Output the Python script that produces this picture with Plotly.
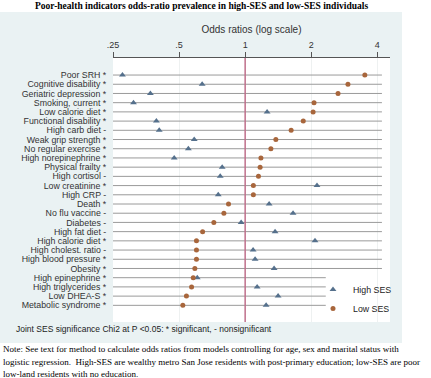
import plotly.graph_objects as go

# ---------------- data ----------------
indicators = [
    "Poor SRH *", "Cognitive disability *", "Geriatric depression *", "Smoking, current *",
    "Low calorie diet *", "Functional disability *", "High carb diet -", "Weak grip strength *",
    "No regular exercise *", "High norepinephrine *", "Physical frailty *", "High cortisol -",
    "Low creatinine *", "High CRP -", "Death *", "No flu vaccine -", "Diabetes -",
    "High fat diet -", "High calorie diet *", "High cholest. ratio -", "High blood pressure *",
    "Obesity *", "High epinephrine *", "High triglycerides *", "Low DHEA-S *", "Metabolic syndrome *",
]
high_ses = [0.276, 0.637, 0.370, 0.310, 1.259, 0.394, 0.406, 0.586, 0.551, 0.475, 0.786, 0.770,
            2.125, 0.754, 1.286, 1.653, 0.959, 1.369, 2.081, 1.087, 1.110, 1.355, 0.605, 1.134,
            1.413, 1.246]
low_ses = [3.51, 2.94, 2.65, 2.06, 2.04, 1.84, 1.62, 1.38, 1.31, 1.18, 1.17, 1.15,
           1.09, 1.09, 0.84, 0.80, 0.72, 0.64, 0.60, 0.60, 0.60, 0.59, 0.58, 0.57,
           0.54, 0.52]
tick_vals = [0.25, 0.5, 1, 2, 4]
tick_text = [".25", ".5", "1", "2", "4"]

# ---------------- layout geometry (pixels) ----------------
W, H = 431, 378
L, R, T, B = 113, 390, 58, 322
PW, PH = R - L, B - T


def px(xp):
    return (xp - L) / PW


def py(yp):
    return (B - yp) / PH


n = len(indicators)
rows = list(range(n))

# row guide lines (shorter where the legend sits)
line_x, line_y = [], []
for i in rows:
    end = 4.2 if i < n - 4 else 2.33
    line_x += [0.25, end, None]
    line_y += [i, i, None]

fig = go.Figure()
fig.add_trace(go.Scatter(x=line_x, y=line_y, mode="lines",
                         line=dict(color="#9a9a9a", width=1),
                         hoverinfo="skip", showlegend=False))
fig.add_trace(go.Scatter(x=high_ses, y=rows, mode="markers", name="High SES",
                         marker=dict(symbol="triangle-up", size=6, color="#55708c")))
fig.add_trace(go.Scatter(x=low_ses, y=rows, mode="markers", name="Low SES",
                         marker=dict(symbol="circle", size=5, color="#a8663c")))

shapes = [
    # outer light bluish-grey graph region
    dict(type="rect", xref="paper", yref="paper", x0=px(0), x1=px(402), y0=py(343), y1=py(12),
         fillcolor="#eaf2f3", line=dict(width=0), layer="below"),
    # white plot region
    dict(type="rect", xref="paper", yref="paper", x0=0, x1=1, y0=0, y1=1,
         fillcolor="white", line=dict(width=0), layer="below"),
    # reference line at OR = 1
    dict(type="line", xref="x", yref="paper", x0=1, x1=1, y0=0, y1=1,
         line=dict(color="#c0708c", width=1.5), layer="above"),
]

serif = "Liberation Serif, Times New Roman, serif"
sans = "Liberation Sans, Arial, sans-serif"

annotations = [
    dict(text="<b>Poor-health indicators odds-ratio prevalence in high-SES and low-SES individuals</b>",
         xref="paper", yref="paper", x=px(201), y=py(6), xanchor="center", yanchor="middle",
         showarrow=False, font=dict(family=serif, size=9.5, color="black")),
    dict(text="Joint SES significance Chi2 at P <0.05: * significant, - nonsignificant",
         xref="paper", yref="paper", x=px(14), y=py(329), xanchor="left", yanchor="middle",
         showarrow=False, font=dict(family=sans, size=8.5, color="#222")),
]
notes = [
    "Note: See text for method to calculate odds ratios from models controlling for age, sex and marital status with",
    "logistic regression.  High-SES are wealthy metro San Jose residents with post-primary education; low-SES are poor",
    "low-land residents with no education.",
]
for k, t in enumerate(notes):
    annotations.append(dict(text=t, xref="paper", yref="paper", x=px(1), y=py(349 + 12.5 * k),
                            xanchor="left", yanchor="middle", showarrow=False,
                            font=dict(family=serif, size=9, color="black")))

fig.update_layout(
    width=W, height=H,
    margin=dict(l=L, r=W - R, t=T, b=H - B, pad=0),
    paper_bgcolor="white", plot_bgcolor="white",
    shapes=shapes, annotations=annotations,
    showlegend=True,
    legend=dict(x=px(313), y=py(275), xanchor="left", yanchor="top",
                bgcolor="rgba(0,0,0,0)", borderwidth=0,
                font=dict(family=sans, size=8.8, color="#222"),
                tracegroupgap=0, itemsizing="trace"),
    xaxis=dict(type="log", side="top", range=[-0.6021, 0.66],
               tickvals=tick_vals, ticktext=tick_text,
               showline=True, linecolor="#555", linewidth=1, mirror=False,
               ticks="outside", ticklen=5, tickcolor="#555", tickwidth=1,
               tickfont=dict(family=sans, size=9, color="#333"),
               showgrid=True, gridcolor="#eef1f1", gridwidth=1, zeroline=False,
               title=dict(text="Odds ratios (log scale)", standoff=4,
                          font=dict(family=sans, size=10, color="#333"))),
    yaxis=dict(range=[n - 1 + 1.81, -1.85], tickvals=rows, ticktext=indicators,
               showgrid=False, zeroline=False, showline=False,
               ticks="outside", ticklen=4, tickcolor="rgba(0,0,0,0)",
               tickfont=dict(family=sans, size=8.8, color="#333")),
    hovermode=False,
)

fig.write_html("out.html", config={"displayModeBar": False},
               post_script="document.body.style.margin='0';")
